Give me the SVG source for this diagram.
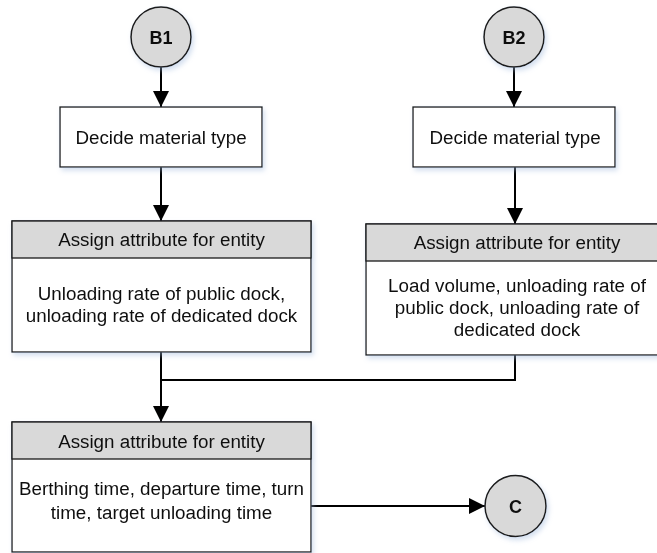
<svg xmlns="http://www.w3.org/2000/svg" width="657" height="553" viewBox="0 0 657 553">
  <style>
    .box { fill: #ffffff; stroke: #1a1a1a; stroke-width: 1.3; }
    .hdr { fill: #d9d9d9; stroke: #1a1a1a; stroke-width: 1.3; }
    .term { fill: #d9d9d9; stroke: #1a1a1a; stroke-width: 1.5; }
    .t { font-family: "Liberation Sans", Arial, sans-serif; font-size: 18.8px; fill: #111111; text-anchor: middle; }
    .tb { font-family: "Liberation Sans", Arial, sans-serif; font-size: 18px; font-weight: bold; fill: #111111; text-anchor: middle; }
    .conn { fill: none; stroke: #000000; stroke-width: 2; }
  </style>
  <defs>
    <marker id="arrow" markerUnits="userSpaceOnUse" markerWidth="16" markerHeight="16" refX="16" refY="8" orient="auto">
      <path d="M0,0 L16,8 L0,16 Z" fill="#000000"/>
    </marker>
    <filter id="shadow" x="-10%" y="-10%" width="125%" height="130%">
      <feGaussianBlur in="SourceAlpha" stdDeviation="2.5"/>
      <feOffset dx="1.5" dy="3" result="b"/>
      <feFlood flood-color="#9fb8dc" flood-opacity="0.45"/>
      <feComposite in2="b" operator="in"/>
      <feMerge>
        <feMergeNode/>
        <feMergeNode in="SourceGraphic"/>
      </feMerge>
    </filter>
  </defs>

  <!-- connectors -->
  <g id="connectors">
    <line class="conn" x1="161" y1="67" x2="161" y2="107" marker-end="url(#arrow)"/>
    <line class="conn" x1="514" y1="67" x2="514" y2="107" marker-end="url(#arrow)"/>
    <line class="conn" x1="161" y1="167" x2="161" y2="221" marker-end="url(#arrow)"/>
    <line class="conn" x1="515" y1="167" x2="515" y2="224" marker-end="url(#arrow)"/>
    <polyline class="conn" points="515,355 515,380 161,380"/>
    <line class="conn" x1="161" y1="352" x2="161" y2="422" marker-end="url(#arrow)"/>
    <line class="conn" x1="311" y1="506" x2="485" y2="506" marker-end="url(#arrow)"/>
  </g>

  <!-- start terminal B1 -->
  <g id="b1" filter="url(#shadow)">
    <circle class="term" cx="161" cy="37" r="30"/>
    <text class="tb" x="161" y="43.5">B1</text>
  </g>

  <!-- start terminal B2 -->
  <g id="b2" filter="url(#shadow)">
    <circle class="term" cx="514" cy="37" r="30"/>
    <text class="tb" x="514" y="43.5">B2</text>
  </g>

  <!-- left process: decide material type -->
  <g id="decide-left" filter="url(#shadow)">
    <rect class="box" x="60" y="107" width="202" height="60"/>
    <text class="t" x="161" y="144">Decide material type</text>
  </g>

  <!-- right process: decide material type -->
  <g id="decide-right" filter="url(#shadow)">
    <rect class="box" x="413" y="107" width="202" height="60"/>
    <text class="t" x="515" y="144">Decide material type</text>
  </g>

  <!-- left attribute assignment -->
  <g id="assign-left" filter="url(#shadow)">
    <rect class="box" x="12" y="221" width="299" height="131"/>
    <rect class="hdr" x="12" y="221" width="299" height="37"/>
    <text class="t" x="161.5" y="246">Assign attribute for entity</text>
    <text class="t" x="161.5" y="300">Unloading rate of public dock,</text>
    <text class="t" x="161.5" y="322">unloading rate of dedicated dock</text>
  </g>

  <!-- right attribute assignment (runs past the right edge) -->
  <g id="assign-right" filter="url(#shadow)">
    <rect class="box" x="366" y="224" width="302" height="131"/>
    <rect class="hdr" x="366" y="224" width="302" height="37"/>
    <text class="t" x="517" y="249">Assign attribute for entity</text>
    <text class="t" x="517" y="292">Load volume, unloading rate of</text>
    <text class="t" x="517" y="314">public dock, unloading rate of</text>
    <text class="t" x="517" y="336">dedicated dock</text>
  </g>

  <!-- time attribute assignment -->
  <g id="assign-time" filter="url(#shadow)">
    <rect class="box" x="12" y="422" width="299" height="130"/>
    <rect class="hdr" x="12" y="422" width="299" height="37"/>
    <text class="t" x="161.5" y="448">Assign attribute for entity</text>
    <text class="t" x="161.5" y="495">Berthing time, departure time, turn</text>
    <text class="t" x="161.5" y="519">time, target unloading time</text>
  </g>

  <!-- end terminal C -->
  <g id="c" filter="url(#shadow)">
    <circle class="term" cx="515.5" cy="506" r="30.5"/>
    <text class="tb" x="515.5" y="512.5">C</text>
  </g>
</svg>
